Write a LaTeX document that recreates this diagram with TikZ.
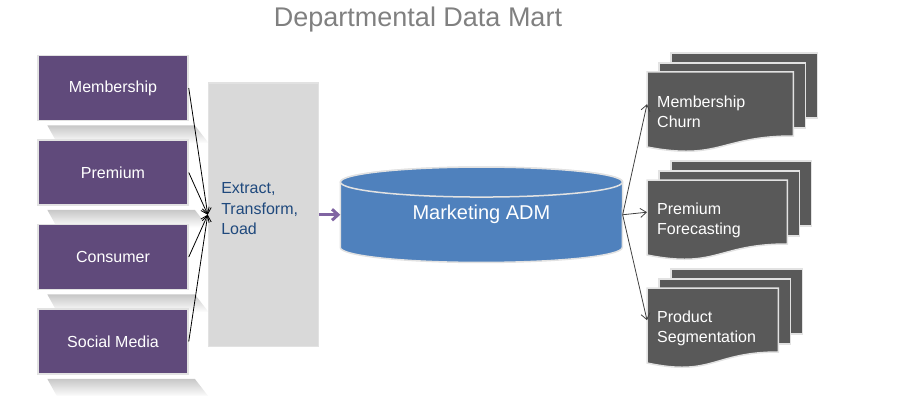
\documentclass[tikz,border=0pt]{standalone}
\usepackage{fontspec}
\setmainfont{Liberation Sans}
\usepackage{tikz}
\usetikzlibrary{
    positioning,     % right=of, below=of
    arrows.meta,     % puntas Straight Barb
    calc,            % aritmetica de coordenadas
    backgrounds      % capas de fondo
}
\definecolor{source_purple}{RGB}{96,74,123}
\definecolor{etl_gray}{RGB}{217,217,217}
\definecolor{etl_text}{RGB}{31,73,125}
\definecolor{adm_blue}{RGB}{79,129,189}
\definecolor{flow_purple}{RGB}{128,100,162}
\definecolor{doc_gray}{RGB}{89,89,89}
\definecolor{edge_light}{RGB}{226,226,226}
\definecolor{title_gray}{RGB}{128,128,128}
\definecolor{arrow_gray}{RGB}{64,64,64}
\tikzset{
    source/.style={
        rectangle, draw=edge_light, line width=1.5pt, fill=source_purple,
        minimum width=150pt, minimum height=65pt, inner sep=0pt,
        text=white, font=\fontsize{16}{20}\selectfont
    },
    shadowband/.style={
        top color=black!22, bottom color=white, draw=none
    },
    etlbox/.style={
        rectangle, draw=edge_light, line width=1.5pt, fill=etl_gray,
        minimum width=110pt, minimum height=263pt
    },
    dbshape/.style={
        fill=adm_blue, draw=edge_light, line width=1.5pt
    },
    docsheet/.style={
        fill=doc_gray, draw=edge_light, line width=1.5pt
    },
    doctext/.style={
        anchor=north west, align=left, inner xsep=10pt, inner ysep=0pt,
        minimum height=80pt, text=white, font=\fontsize{16}{20}\selectfont
    },
    arrow/.style={
        -{Straight Barb[length=6pt,width=9pt]}, line width=0.8pt
    },
    flow/.style={
        -{Straight Barb[length=6pt,width=11pt]}, line width=3pt, draw=flow_purple
    }
}

\begin{document}
\begin{tikzpicture}[x=1pt, y=-1pt, node distance=18pt and 20pt]
    \useasboundingbox (0,0) rectangle (900,396);

    \node[font=\fontsize{27}{32}\selectfont, text=title_gray] (title) at (418,20) {Departmental Data Mart};

    % --- Fuentes ---
    \node[source] (membership) at (113,88) {Membership};
    \node[source, below=of membership] (premium)  {Premium};
    \node[source, below=of premium]    (consumer) {Consumer};
    \node[source, below=of consumer]   (social)   {Social Media};

    \begin{scope}[on background layer]
        \foreach \src in {membership, premium, consumer, social} {
            \shade[shadowband] ($(\src.south west)+(10,4)$) -- ($(\src.south east)+(6,4)$)
                -- ($(\src.south east)+(20,22)$) -- ($(\src.south west)+(20,22)$) -- cycle;
        }
    \end{scope}

    % --- ETL ---
    \coordinate (mid_east) at ($(membership.east)!0.5!(social.east)$);
    \node[etlbox, right=19pt of mid_east] (etl) {};
    \node[anchor=west, align=left, text=etl_text, font=\fontsize{16}{20.5}\selectfont]
        (etltext) at ($(etl.west)+(10,-6)$) {Extract,\\Transform,\\Load};

    % --- Data mart ---
    \node[minimum width=282pt, minimum height=95pt, right=21pt of etl,
          text=white, font=\fontsize{20}{24}\selectfont] (adm) {Marketing ADM};
    \begin{scope}[on background layer]
        \draw[dbshape] ($(adm.north west)+(0,15)$) -- ($(adm.south west)+(0,-15)$)
            arc[start angle=180, end angle=0, x radius=141, y radius=15]
            -- ($(adm.north east)+(0,15)$)
            arc[start angle=0, end angle=-180, x radius=141, y radius=15] -- cycle;
        \draw[dbshape] ($(adm.north)+(0,15)$) ellipse[x radius=141, y radius=15];
    \end{scope}

    % --- Informes ---
    \foreach \nm/\yy/\ww/\txt in {churn/72/146/{Membership\\Churn},
                                  forecast/180/140/{Premium\\Forecasting},
                                  segment/288/131/{Product\\Segmentation}} {
        \pgfmathsetmacro\tw{\ww-20}
        \node[doctext, text width=\tw pt] (\nm) at (647,\yy) {\txt};
        \begin{scope}[on background layer]
            \draw[docsheet] ($(\nm.north west)+(24,-19)$) rectangle ($(\nm.north east)+(24,46)$);
            \draw[docsheet] ($(\nm.north west)+(12,-9)$) rectangle ($(\nm.north east)+(12,56)$);
            \draw[docsheet] (\nm.north west) -- (\nm.north east) -- ($(\nm.north east)+(0,64)$)
                .. controls ($(\nm.north)+(0,64)$) and ($(\nm.north)+(0,89)$)
                .. ($(\nm.north west)+(0,75)$) -- cycle;
        \end{scope}
    }

    % --- Flechas ---
    \foreach \src in {membership, premium, consumer, social} {
        \draw[arrow] (\src.east) -- (etl.west);
    }
    \draw[flow] (etl.east) -- (adm.west);
    \foreach \dst in {churn, forecast, segment} {
        \draw[arrow, draw=arrow_gray] (adm.east) -- ([yshift=8pt]\dst.west);
    }

\end{tikzpicture}
\end{document}
